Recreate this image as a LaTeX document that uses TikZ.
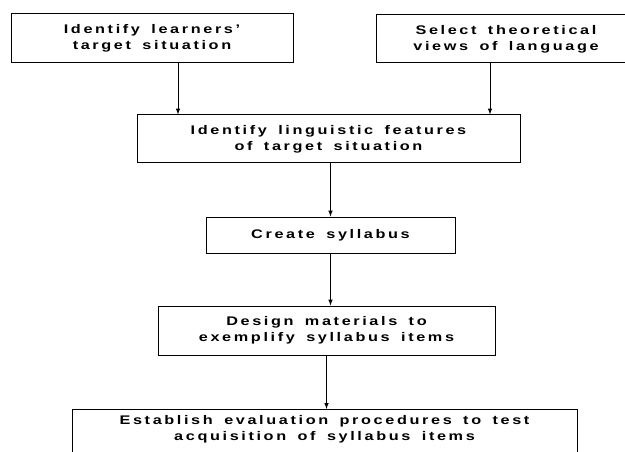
\documentclass[tikz,border=0pt]{standalone}
\usepackage{fontspec}
\newfontfamily\boxfont{Liberation Sans}[LetterSpace=21,FakeStretch=1.3,WordSpace=1.6]
\usepackage{tikz}
\usetikzlibrary{positioning}

\begin{document}
\begin{tikzpicture}[x=1pt,y=-1pt,>=latex,line width=1pt,
  box/.style={draw,rectangle,inner sep=0pt,align=center,
    font=\boxfont\bfseries\fontsize{12.5}{16}\selectfont},
  boxtext/.style={align=center,font=\boxfont\bfseries\fontsize{12.5}{16}\selectfont}]
  \useasboundingbox (0,0) rectangle (625,452);
  \clip (0,0) rectangle (625,452);
  \node[box,minimum width=282,minimum height=49] (learners) at (152,38.5)
    {Identify learners’\\target situation};
  \node[box,minimum width=260,minimum height=48] (views) at (506,39)
    {Select theoretical\\views of language};
  \node[box,minimum width=383,minimum height=48] (features) at (328.5,139)
    {Identify linguistic features\\of target situation};
  \node[box,minimum width=249,minimum height=36] (syllabus) at (330.5,235)
    {Create syllabus};
  \node[box,minimum width=337,minimum height=49] (design) at (326.5,330.5)
    {Design materials to\\exemplify syllabus items};
  \node[box,minimum width=505,minimum height=70,anchor=north,
    label={[boxtext,anchor=north,yshift=-2.5pt]north:{Establish evaluation procedures to test\\acquisition of syllabus items}}]
    (establish) at (324.5,409) {};
  \path[->]
  ([xshift=26pt]learners.south) edge ([xshift=26pt]learners.south |- features.north)
  ([xshift=-16pt]views.south) edge ([xshift=-16pt]views.south |- features.north)
  (features.south -| syllabus.north) edge (syllabus.north)
  (syllabus.south) edge (syllabus.south |- design.north)
  (design.south) edge (design.south |- establish.north)
  ;
\end{tikzpicture}
\end{document}
